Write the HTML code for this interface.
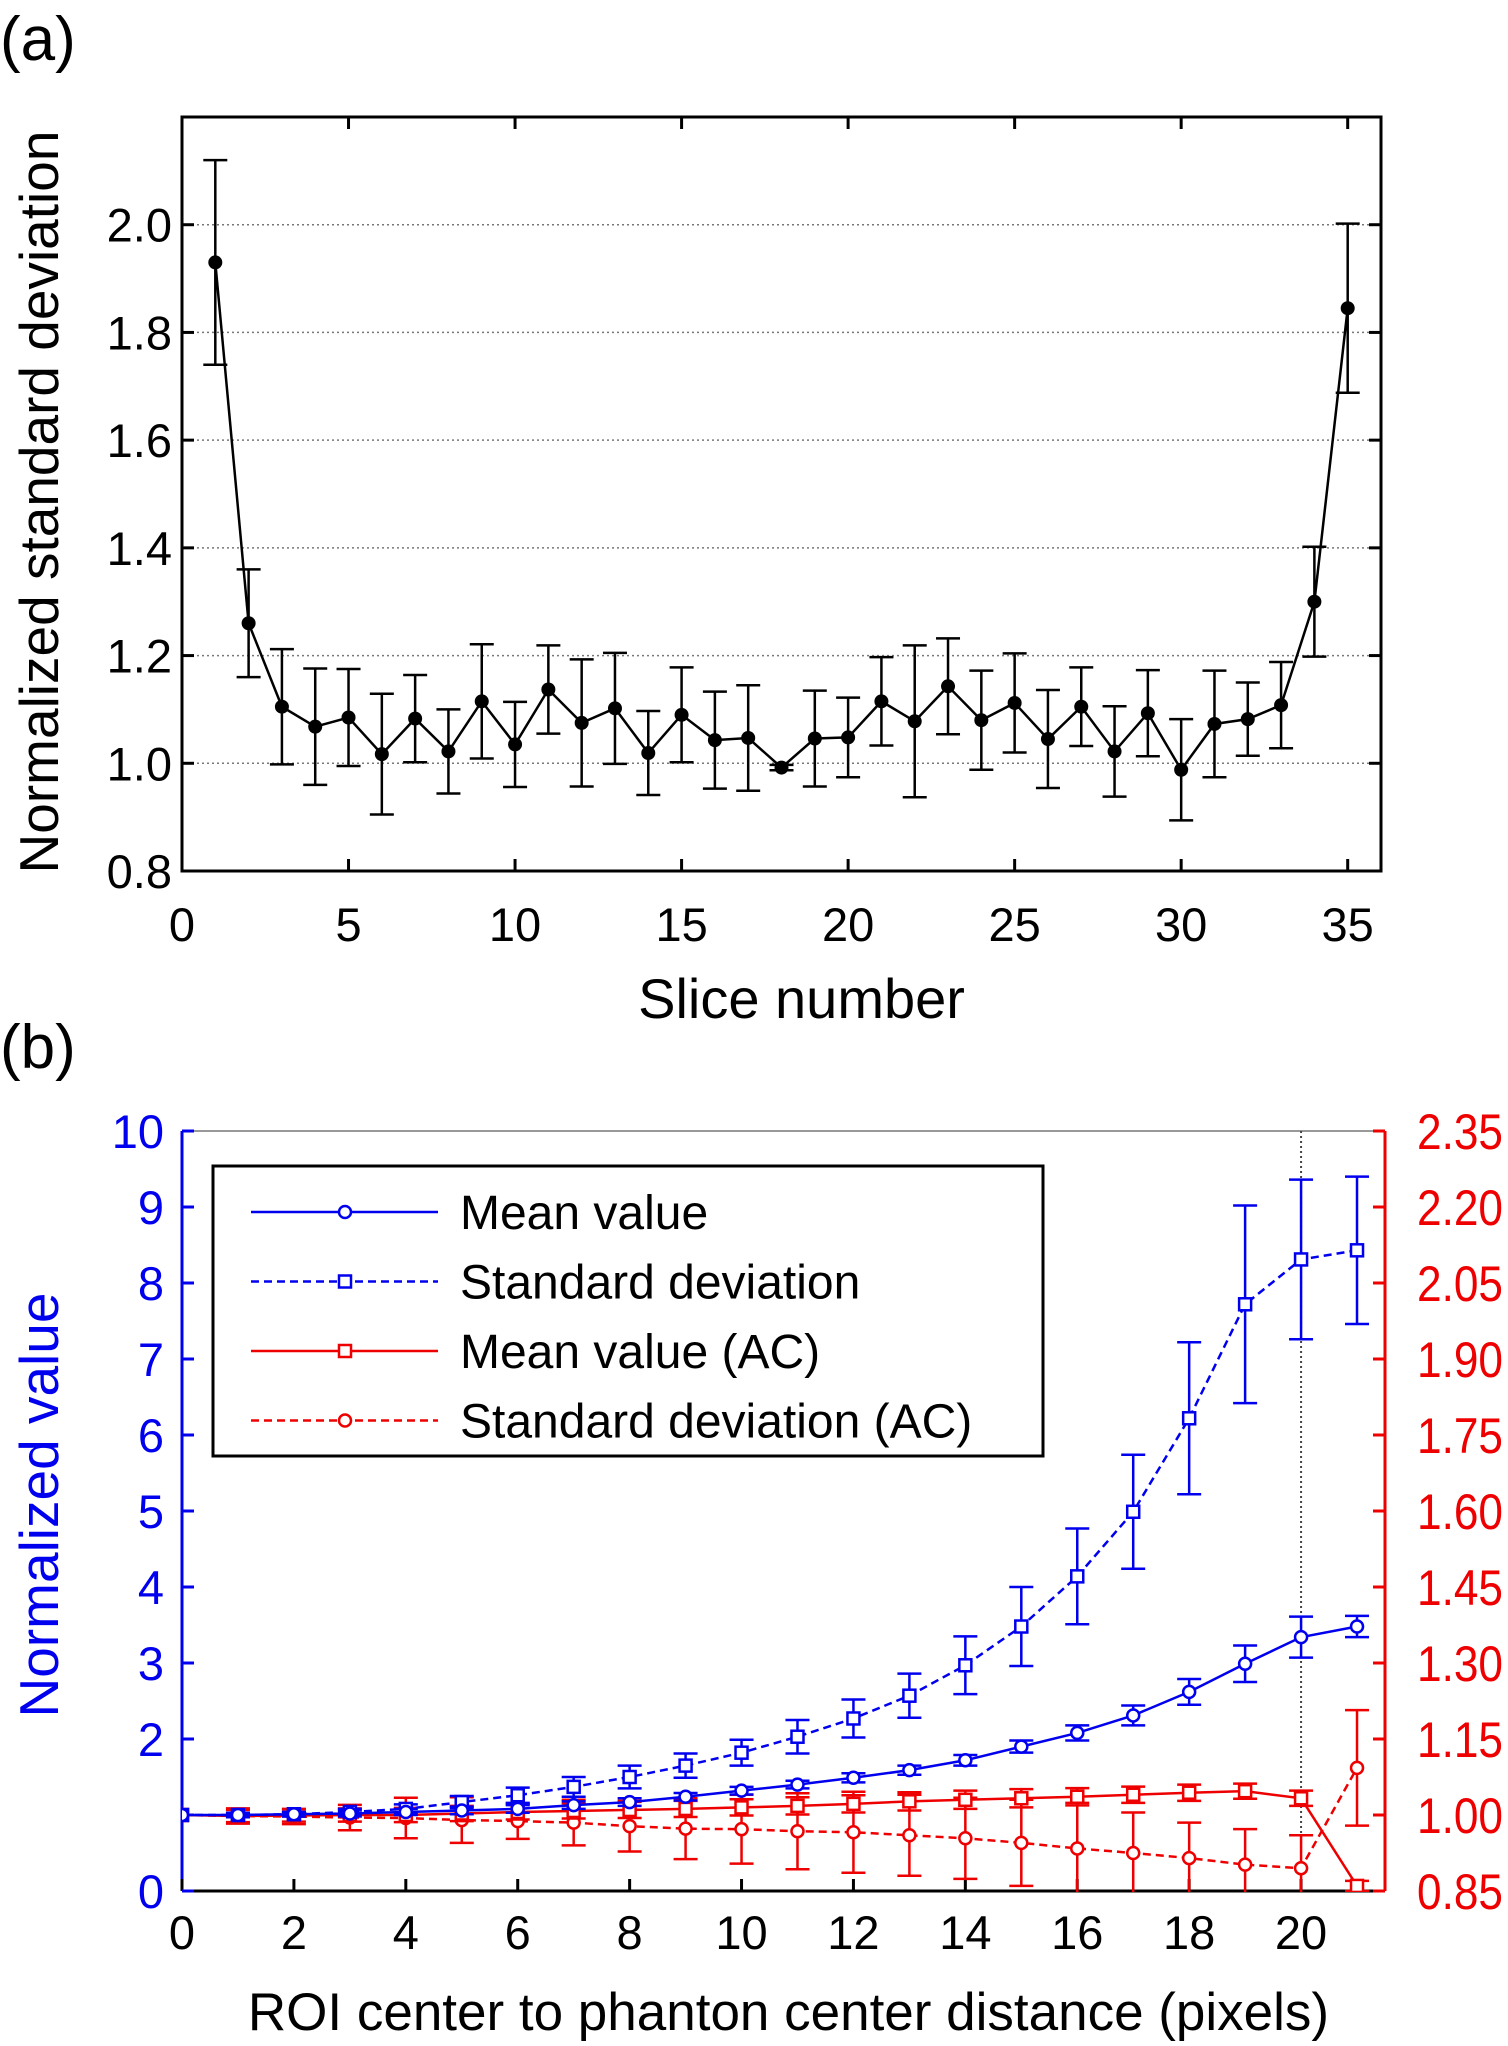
<!DOCTYPE html>
<html><head><meta charset="utf-8"><style>
html,body{margin:0;padding:0;background:#fff;}
svg{display:block;font-family:"Liberation Sans",Arial,sans-serif;}
</style></head><body>
<svg id="fig" width="1508" height="2046" viewBox="0 0 1508 2046">
<defs>
<clipPath id="clipB"><rect x="182" y="1131" width="1203" height="761"/></clipPath>
</defs>
<text x="0" y="60" font-size="62">(a)</text>
<text x="0" y="1068" font-size="62">(b)</text>
<g id="pa"></g>
<g id="pb"></g>
</svg>
<script>
// ---- Panel (a) data ----
const sliceNums = [1,2,3,4,5,6,7,8,9,10,11,12,13,14,15,16,17,18,19,20,21,22,23,24,25,26,27,28,29,30,31,32,33,34,35];
const sliceStd = [1.93,1.26,1.105,1.068,1.085,1.017,1.083,1.022,1.115,1.035,1.137,1.075,1.102,1.019,1.09,1.043,1.047,0.992,1.046,1.048,1.115,1.078,1.143,1.08,1.112,1.045,1.105,1.022,1.093,0.988,1.073,1.082,1.108,1.3,1.845];
const sliceErr = [0.19,0.1,0.107,0.108,0.09,0.112,0.081,0.078,0.106,0.079,0.082,0.118,0.103,0.078,0.088,0.09,0.098,0.005,0.089,0.074,0.082,0.141,0.089,0.092,0.092,0.091,0.073,0.084,0.08,0.094,0.099,0.068,0.08,0.102,0.157];
const aXTicks = [0,5,10,15,20,25,30,35];
const aYTicks = [0.8,1.0,1.2,1.4,1.6,1.8,2.0];
const aYTickLabels = ["0.8","1.0","1.2","1.4","1.6","1.8","2.0"];

// ---- Panel (b) data ----
const dist = [0,1,2,3,4,5,6,7,8,9,10,11,12,13,14,15,16,17,18,19,20,21];
const meanVal = [1,1,1.01,1.02,1.04,1.06,1.08,1.13,1.17,1.24,1.32,1.4,1.49,1.59,1.72,1.9,2.08,2.31,2.62,2.99,3.34,3.48];
const meanErr = [0,0.03,0.03,0.04,0.04,0.05,0.05,0.05,0.05,0.05,0.05,0.05,0.06,0.06,0.07,0.08,0.1,0.13,0.17,0.24,0.27,0.14];
const stdVal = [1,1,1.01,1.04,1.08,1.17,1.26,1.37,1.5,1.65,1.82,2.03,2.27,2.57,2.97,3.48,4.14,4.99,6.22,7.72,8.31,8.43];
const stdErr = [0,0.03,0.03,0.04,0.06,0.08,0.1,0.13,0.15,0.16,0.17,0.22,0.25,0.29,0.38,0.52,0.63,0.75,1.0,1.3,1.05,0.97];
const meanAC = [1,0.998,0.999,1.0,1.0,1.003,1.006,1.008,1.01,1.012,1.015,1.018,1.022,1.027,1.03,1.033,1.036,1.04,1.044,1.047,1.033,0.86];
const meanACErr = [0,0.012,0.012,0.013,0.014,0.015,0.015,0.015,0.016,0.016,0.016,0.017,0.017,0.018,0.018,0.018,0.017,0.016,0.016,0.015,0.015,0.01];
const stdAC = [1,0.998,0.997,0.995,0.994,0.99,0.988,0.985,0.978,0.973,0.972,0.968,0.966,0.96,0.954,0.945,0.934,0.925,0.915,0.902,0.895,1.093];
const stdACErr = [0,0.015,0.015,0.025,0.04,0.045,0.035,0.045,0.05,0.06,0.068,0.075,0.08,0.08,0.08,0.085,0.09,0.08,0.07,0.07,0.065,0.114];
const bXTicks = [0,2,4,6,8,10,12,14,16,18,20];
const bLeftTicks = [0,1,2,3,4,5,6,7,8,9,10];
const bLeftTickLabels = ["0","","2","3","4","5","6","7","8","9","10"];
const bRightTicks = [0.85,1.0,1.15,1.3,1.45,1.6,1.75,1.9,2.05,2.2,2.35];
const bRightTickLabels = ["0.85","1.00","1.15","1.30","1.45","1.60","1.75","1.90","2.05","2.20","2.35"];

const NS="http://www.w3.org/2000/svg";
function mk(parent,tag,attrs,text){const e=document.createElementNS(NS,tag);for(const k in attrs)e.setAttribute(k,attrs[k]);if(text!==undefined)e.textContent=text;parent.appendChild(e);return e;}

// ===== Panel A =====
const pa=document.getElementById('pa');
const aL=182,aR=1381,aT=117,aB=871;
const ax=v=>aL+(v-0)/(36-0)*(aR-aL);
const ay=v=>aB-(v-0.8)/(2.2-0.8)*(aB-aT);
aYTicks.forEach((t,i)=>{
  if(t>0.8){const g=mk(pa,'line',{x1:aL,x2:aR,y1:ay(t),y2:ay(t),stroke:'#777','stroke-width':1.5,'stroke-dasharray':'2,3'});
  
  }
  const l=mk(pa,'text',{x:aL-10,y:ay(t)+17,'font-size':47,'text-anchor':'end'},aYTickLabels[i]);
  
  
  mk(pa,'line',{x1:aL,x2:aL+12,y1:ay(t),y2:ay(t),stroke:'#000','stroke-width':3});
  mk(pa,'line',{x1:aR,x2:aR-12,y1:ay(t),y2:ay(t),stroke:'#000','stroke-width':3});
});
aXTicks.forEach(t=>{
  mk(pa,'line',{x1:ax(t),x2:ax(t),y1:aB,y2:aB-12,stroke:'#000','stroke-width':3});
  mk(pa,'line',{x1:ax(t),x2:ax(t),y1:aT,y2:aT+12,stroke:'#000','stroke-width':3});
  const l=mk(pa,'text',{x:ax(t),y:aB+70,'font-size':47,'text-anchor':'middle'},String(t));
  
  
});
const fa=mk(pa,'rect',{x:aL,y:aT,width:aR-aL,height:aB-aT,fill:'none',stroke:'#000','stroke-width':3});


sliceNums.forEach((s,i)=>{
  const x=ax(s),y1=ay(sliceStd[i]-sliceErr[i]),y2=ay(sliceStd[i]+sliceErr[i]);
  const e=mk(pa,'path',{d:`M${x},${y1}V${y2}M${x-12},${y1}H${x+12}M${x-12},${y2}H${x+12}`,stroke:'#000','stroke-width':2.5,fill:'none'});
  
  
});
const la=mk(pa,'polyline',{points:sliceNums.map((s,i)=>ax(s)+','+ay(sliceStd[i])).join(' '),fill:'none',stroke:'#000','stroke-width':2.5});


sliceNums.forEach((s,i)=>{
  const c=mk(pa,'circle',{cx:ax(s),cy:ay(sliceStd[i]),r:7,fill:'#000'});
  
  
});
const ya=mk(pa,'text',{x:0,y:0,'font-size':55,'text-anchor':'middle',transform:`translate(58,${(aT+aB)/2+8}) rotate(-90)`},'Normalized standard deviation');


const xa=mk(pa,'text',{x:(aL+aR)/2+20,y:1018,'font-size':56,'text-anchor':'middle'},'Slice number');



// ===== Panel B =====
const pb=document.getElementById('pb');
const bL=182,bR=1385,bT=1131,bB=1891;
const bx=v=>bL+v/21.5*(bR-bL);
const byL=v=>bB-v/10*(bB-bT);
const byR=v=>bB-(v-0.85)/(2.35-0.85)*(bB-bT);
const BLUE='#0000ee',RED='#ee0000';
mk(pb,'line',{x1:bL,x2:bR,y1:bT,y2:bT,stroke:'#999','stroke-width':2});
mk(pb,'line',{x1:bL,x2:bR,y1:bB,y2:bB,stroke:'#000','stroke-width':3});
mk(pb,'line',{x1:bL,x2:bL,y1:bT,y2:bB,stroke:BLUE,'stroke-width':3});
mk(pb,'line',{x1:bR,x2:bR,y1:bT,y2:bB,stroke:RED,'stroke-width':3});
const vl=mk(pb,'line',{x1:bx(20),x2:bx(20),y1:bT,y2:bB,stroke:'#444','stroke-width':2,'stroke-dasharray':'2,3'});


bXTicks.forEach(t=>{
  mk(pb,'line',{x1:bx(t),x2:bx(t),y1:bB,y2:bB-12,stroke:'#000','stroke-width':3});
  const l=mk(pb,'text',{x:bx(t),y:bB+58,'font-size':47,'text-anchor':'middle'},String(t));
  
  
});
bLeftTicks.forEach((t,i)=>{
  mk(pb,'line',{x1:bL,x2:bL+12,y1:byL(t),y2:byL(t),stroke:BLUE,'stroke-width':3});
  const l=mk(pb,'text',{x:bL-18,y:byL(t)+17,'font-size':47,'text-anchor':'end',fill:BLUE},bLeftTickLabels[i]);
  
  
});
bRightTicks.forEach((t,i)=>{
  mk(pb,'line',{x1:bR,x2:bR-12,y1:byR(t),y2:byR(t),stroke:RED,'stroke-width':3});
  const l=mk(pb,'text',{x:bR+32,y:byR(t)+18,'font-size':50,fill:RED,textLength:86,lengthAdjust:'spacingAndGlyphs'},bRightTickLabels[i]);
  
  
});
const clip=mk(pb,'g',{'clip-path':'url(#clipB)'});
function series(vals,errs,yf,color,dash,marker,name){
  const g=mk(clip,'g',{});
  
  
  dist.forEach((d,i)=>{
    if(errs[i]<=0)return;
    const x=bx(d),y1=yf(vals[i]-errs[i]),y2=yf(vals[i]+errs[i]);
    mk(g,'path',{d:`M${x},${y1}V${y2}M${x-12},${y1}H${x+12}M${x-12},${y2}H${x+12}`,stroke:color,'stroke-width':2.5,fill:'none'});
  });
  const attrs={points:dist.map((d,i)=>bx(d)+','+yf(vals[i])).join(' '),fill:'none',stroke:color,'stroke-width':2.5};
  if(dash)attrs['stroke-dasharray']=dash;
  mk(g,'polyline',attrs);
  dist.forEach((d,i)=>{
    if(marker==='o')mk(g,'circle',{cx:bx(d),cy:yf(vals[i]),r:6,fill:'#fff',stroke:color,'stroke-width':2.5});
    else mk(g,'rect',{x:bx(d)-6,y:yf(vals[i])-6,width:12,height:12,fill:'#fff',stroke:color,'stroke-width':2.5});
  });
}
series(stdAC,stdACErr,byR,RED,'8,5','o','series-std-ac');
series(meanAC,meanACErr,byR,RED,null,'s','series-mean-ac');
series(stdVal,stdErr,byL,BLUE,'8,5','s','series-std');
series(meanVal,meanErr,byL,BLUE,null,'o','series-mean');

// legend
const lg=mk(pb,'g',{});


mk(lg,'rect',{x:213,y:1166,width:830,height:290,fill:'#fff',stroke:'#000','stroke-width':3});
const legNames=['Mean value','Standard deviation','Mean value (AC)','Standard deviation (AC)'];
const legColors=[BLUE,BLUE,RED,RED];
const legDash=[null,'8,5',null,'8,5'];
const legMark=['o','s','s','o'];
legNames.forEach((n,i)=>{
  const y=1212+i*69.5;
  const e=mk(lg,'g',{});
  
  
  const a={x1:251,x2:438,y1:y,y2:y,stroke:legColors[i],'stroke-width':2.5};
  if(legDash[i])a['stroke-dasharray']=legDash[i];
  mk(e,'line',a);
  if(legMark[i]==='o')mk(e,'circle',{cx:345,cy:y,r:6,fill:'#fff',stroke:legColors[i],'stroke-width':2.5});
  else mk(e,'rect',{x:339,y:y-6,width:12,height:12,fill:'#fff',stroke:legColors[i],'stroke-width':2.5});
  mk(e,'text',{x:460,y:y+17,'font-size':48},n);
});
const yb=mk(pb,'text',{x:0,y:0,'font-size':55,'text-anchor':'middle',fill:BLUE,transform:`translate(58,1505) rotate(-90)`},'Normalized value');


const xb=mk(pb,'text',{x:(bL+bR)/2+5,y:2030,'font-size':53,'text-anchor':'middle'},'ROI center to phanton center distance (pixels)');


</script>
</body></html>
